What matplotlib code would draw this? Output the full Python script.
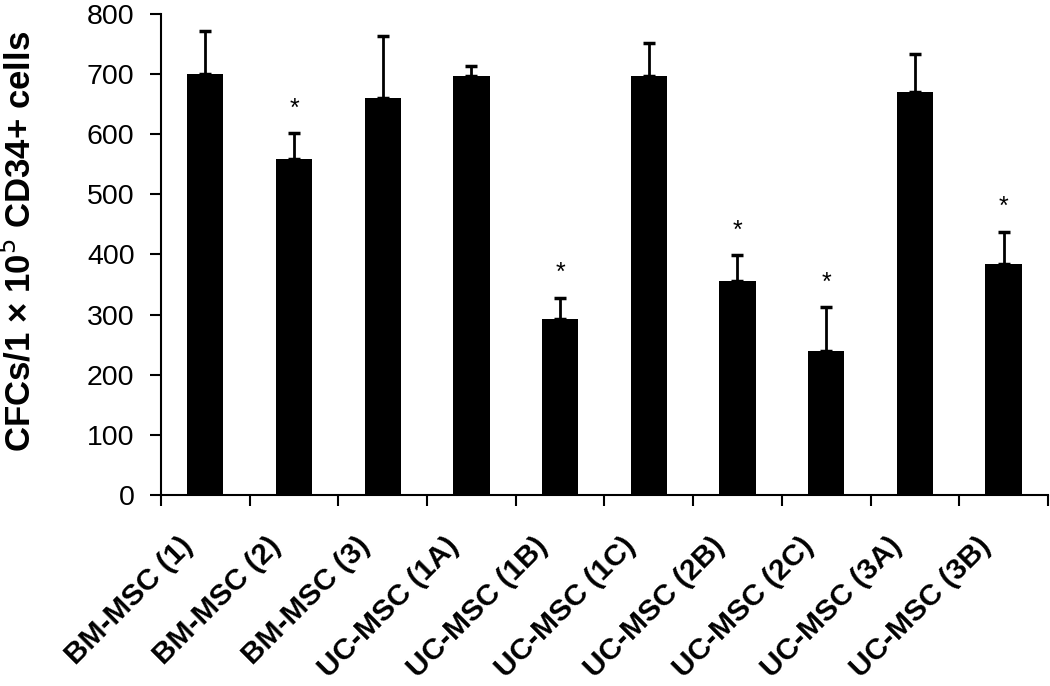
import numpy as np
import matplotlib
matplotlib.use("Agg")
import matplotlib.pyplot as plt
from matplotlib.transforms import ScaledTranslation

plt.rcParams['font.family'] = ['Liberation Sans', 'DejaVu Sans']

# data
groups = ["BM-MSC (1)", "BM-MSC (2)", "BM-MSC (3)", "UC-MSC (1A)", "UC-MSC (1B)",
          "UC-MSC (1C)", "UC-MSC (2B)", "UC-MSC (2C)", "UC-MSC (3A)", "UC-MSC (3B)"]
cfc_mean = [700, 558, 660, 697, 292, 697, 355, 239, 670, 384]
cfc_err = [71, 43, 103, 16, 36, 54, 44, 73, 63, 54]
significant = [False, True, False, False, True, False, True, True, False, True]

fig = plt.figure(figsize=(10.5, 6.86), dpi=100)
ax = fig.add_axes([0.1533, 0.2784, 0.8447, 0.7016])

x = np.arange(len(groups))
ax.bar(x, cfc_mean, width=0.41, color="black")
ax.errorbar(x, cfc_mean, yerr=[np.zeros(len(x)), cfc_err], fmt="none",
            ecolor="black", elinewidth=2, capsize=4, capthick=2.5)

# asterisks above the significant ones
for xi, m, e, s in zip(x, cfc_mean, cfc_err, significant):
    if s:
        ax.annotate("*", (xi, m + e), xytext=(0, 9), textcoords="offset points",
                    ha="center", va="bottom", fontsize=18)

ax.set_xlim(-0.5, len(groups) - 0.5)
ax.set_ylim(0, 800)
ax.set_yticks(range(0, 801, 100))
ax.tick_params(axis="y", labelsize=20.5, length=8, width=1.5, direction="out", pad=11)

ax.set_xticks(x)
ax.set_xticklabels(groups, rotation=45, ha="right", rotation_mode="anchor",
                   fontsize=21.5, fontweight="bold")
ax.set_xticks(np.arange(-0.5, len(groups)), minor=True)
ax.tick_params(axis="x", which="major", length=0, pad=22)
ax.tick_params(axis="x", which="minor", length=8, width=1.5, direction="out")
shift = ScaledTranslation(-0.27, -0.06, fig.dpi_scale_trans)
for lab in ax.get_xticklabels():
    lab.set_transform(lab.get_transform() + shift)

ax.set_ylabel("CFCs/1 \u00d7 10$^5$ CD34+ cells", fontsize=25, fontweight="bold")
ax.yaxis.set_label_coords(-0.139, 0.527)

for side in ["top", "right"]:
    ax.spines[side].set_visible(False)
for side in ["left", "bottom"]:
    ax.spines[side].set_linewidth(1.5)

fig.savefig("out.png", dpi=100)
